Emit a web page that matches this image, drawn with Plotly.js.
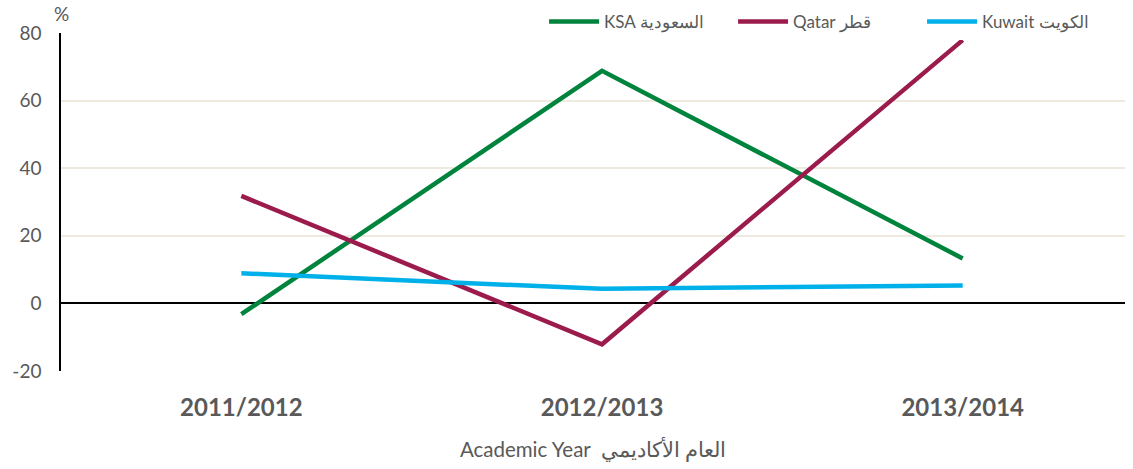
<!DOCTYPE html>
<html><head><meta charset="utf-8">
<script src="https://cdn.plot.ly/plotly-3.0.1.min.js"></script>
<style>html,body{margin:0;padding:0;background:#fff}</style>
</head><body>
<div id="chart" style="width:1133px;height:469px"></div>
<script>
const years = ["2011/2012", "2012/2013", "2013/2014"];
const ksa = [-3.2, 68.8, 13.3];
const qatar = [31.8, -12.1, 77.9];
const kuwait = [8.9, 4.3, 5.3];
const names = ["KSA السعودية", "Qatar قطر", "Kuwait الكويت"];
const yTickVals = [-20, 0, 20, 40, 60, 80];
const yTickText = ["-20", "0", "20", "40", "60", "80"];
const colors = ["#00843D", "#9C1B4D", "#00B0E8"];
const xIdx = years.map((_, i) => i);

const series = [ksa, qatar, kuwait];
const traces = series.map((s, i) => ({
  x: xIdx, y: s, type: "scatter", mode: "lines", name: names[i],
  line: {color: colors[i], width: 4.5}
}));

const layout = {
  width: 1133, height: 469,
  margin: {l: 61, r: 8, t: 4, b: 98},
  paper_bgcolor: "#fff", plot_bgcolor: "#fff",
  font: {family: "Lato, Noto Sans, sans-serif", color: "#595959"},
  showlegend: true,
  legend: {orientation: "h", x: 0.454, y: 1.0, xanchor: "left", yanchor: "top",
           font: {size: 17, color: "#595959"}, traceorder: "normal", itemwidth: 50,
           entrywidth: 124, entrywidthmode: "pixels"},
  xaxis: {
    range: [-0.5, 2.45], tickmode: "array", tickvals: xIdx, ticktext: years,
    showgrid: false, zeroline: false, showline: false, ticks: "",
    ticklabelstandoff: 20,
    tickfont: {size: 24, color: "#595959", family: "Lato, sans-serif", weight: "bold"},
    title: {text: "Academic Year  العام الأكاديمي", font: {size: 20.5, color: "#595959"}, standoff: 22}
  },
  yaxis: {
    domain: [0, 338 / 367],
    range: [-20, 80], tickmode: "array", tickvals: yTickVals, ticktext: yTickText,
    showgrid: true, gridcolor: "#EEEAE0", gridwidth: 1.5,
    zeroline: true, zerolinecolor: "#000", zerolinewidth: 1.5,
    showline: true, linecolor: "#000", linewidth: 1.5, ticks: "",
    ticklabelstandoff: 14,
    tickfont: {size: 19, color: "#595959"}
  },
  annotations: [{text: "%", xref: "paper", yref: "paper", x: 0, y: 338 / 367, xshift: 0, yshift: 19,
    showarrow: false, xanchor: "center", yanchor: "middle", font: {size: 19, color: "#595959"}}]
};
Plotly.newPlot("chart", traces, layout, {displayModeBar: false, responsive: false});
</script>
</body></html>
